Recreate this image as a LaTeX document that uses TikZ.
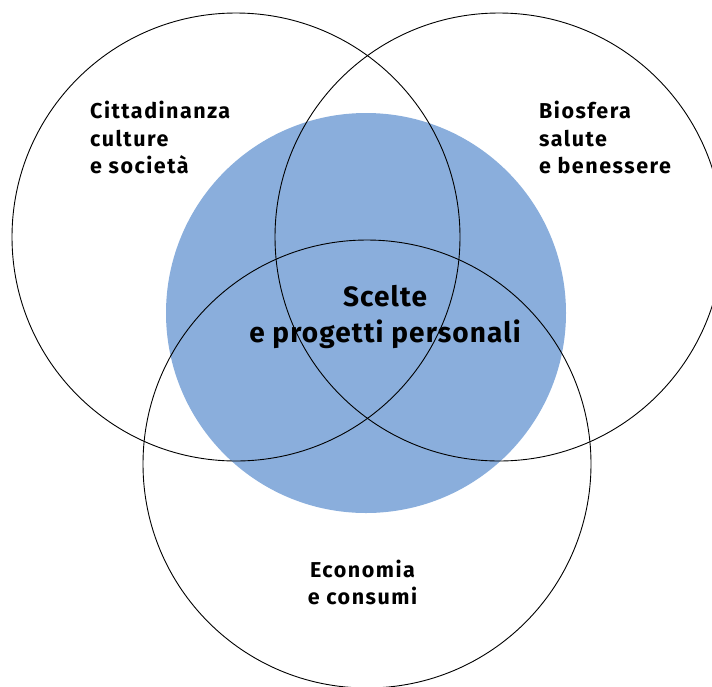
\documentclass[tikz,border=0pt]{standalone}
\usepackage{fontspec}
\setmainfont{Fira Sans}
\newfontfamily\smallfont{Fira Sans}[LetterSpace=7]
\newfontfamily\bigfont{Fira Sans}[LetterSpace=4]
\definecolor{fillblue}{HTML}{8AAEDC}
\begin{document}
\begin{tikzpicture}[x=1pt,y=-1pt,
  ring/.style={draw=black,line width=0.9pt},
  lbl/.style={font=\smallfont\bfseries\fontsize{21.5}{28}\selectfont,inner sep=0pt,anchor=base west},
  clbl/.style={font=\smallfont\bfseries\fontsize{21.5}{28}\selectfont,inner sep=0pt,anchor=base},
  biglbl/.style={font=\bigfont\bfseries\fontsize{28}{36}\selectfont,inner sep=0pt,anchor=base}]
\useasboundingbox (0,0) rectangle (712,686);
\begin{scope}
\clip (0,0) rectangle (712,686);
\fill[fillblue] (366,313) circle (200);
\draw[ring] (236,237) circle (224);
\draw[ring] (499,237) circle (224);
\draw[ring] (367,464) circle (224);
\end{scope}
\node[lbl] (cit1) at (90,118) {Cittadinanza};
\node[lbl] (cit2) at (90,146) {culture};
\node[lbl] (cit3) at (90,173) {e società};
\node[lbl] (bio1) at (539,118) {Biosfera};
\node[lbl] (bio2) at (539,146) {salute};
\node[lbl] (bio3) at (539,173) {e benessere};
\node[biglbl] (sce1) at (385,306) {Scelte};
\node[biglbl] (sce2) at (385,342) {e progetti personali};
\node[clbl] (eco1) at (362.5,577) {Economia};
\node[clbl] (eco2) at (362.5,604) {e consumi};
\end{tikzpicture}
\end{document}
